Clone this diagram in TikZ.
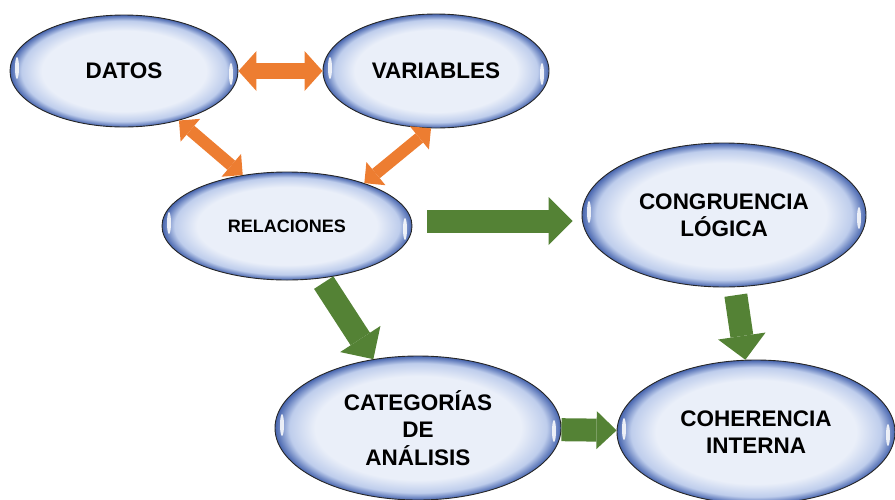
\documentclass[tikz,border=0pt]{standalone}
\usepackage{fontspec}
\setmainfont{Liberation Sans}
\usetikzlibrary{shapes.geometric, arrows.meta, calc}

\definecolor{naranja}{RGB}{237,125,49}
\definecolor{verde}{RGB}{84,130,53}
\definecolor{globoin}{RGB}{234,239,249}
\definecolor{globomid}{RGB}{190,205,236}
\definecolor{globoout}{RGB}{70,100,174}
\pgfdeclareradialshading{globosombra}{\pgfpointorigin}{color(0bp)=(globoin); color(18bp)=(globoin); color(22.5bp)=(globomid); color(25bp)=(globoout); color(50bp)=(globoout)}

\tikzset{
  globo/.style={ellipse, draw=black!85, line width=0.9pt, shading=globosombra, inner sep=2pt,
    align=center, font=\bfseries\fontsize{22.5}{27.5}\selectfont,
    path picture={
      \fill[white, opacity=.85] ($(path picture bounding box.west)+(7pt,3pt)$) ellipse [x radius=2pt, y radius=11pt];
      \fill[white, opacity=.85] ($(path picture bounding box.east)+(-7pt,-3pt)$) ellipse [x radius=2pt, y radius=11pt];
    }},
  flecha/.style={draw=verde, line width=23pt, -{Triangle[width=48pt, length=24pt, line width=0pt]}},
  dobleflecha/.style={draw=naranja, line width=12pt,
    {Triangle[width=30pt, length=15pt, line width=0pt]}-{Triangle[width=30pt, length=15pt, line width=0pt]}},
}

\begin{document}
\begin{tikzpicture}[x=1pt, y=-1pt]
\useasboundingbox (0,0) rectangle (895,499);
% globos
\node[globo, minimum width=228pt, minimum height=112pt] (datos) at (124,71) {DATOS};
\node[globo, minimum width=226pt, minimum height=114pt] (variables) at (436,71) {VARIABLES};
\node[globo, minimum width=250pt, minimum height=108pt, font=\bfseries\fontsize{18}{22}\selectfont] (relaciones) at (287,226) {RELACIONES};
\node[globo, minimum width=284pt, minimum height=144pt] (congruencia) at (724,215) {CONGRUENCIA\\LÓGICA};
\node[globo, minimum width=286pt, minimum height=144pt] (categorias) at (418,428) {CATEGORÍAS\\DE\\ANÁLISIS};
\node[globo, minimum width=278pt, minimum height=144pt] (coherencia) at (756,432) {COHERENCIA\\INTERNA};
% flechas naranjas
\draw[dobleflecha, line width=16pt, {Triangle[width=40pt, length=18pt, line width=0pt]}-{Triangle[width=40pt, length=18pt, line width=0pt]}] (datos.east) -- (variables.west);
\draw[dobleflecha] (datos.-42) -- (relaciones.131);
\draw[dobleflecha] (variables.-95) -- (relaciones.29);
% flechas verdes
\draw[flecha, shorten <=15pt, shorten >=9pt] ([yshift=5pt]relaciones.east) -- ([yshift=5pt]relaciones.east -| congruencia.west);
\draw[flecha, shorten <=5pt] (relaciones) -- (categorias);
\draw[flecha, shorten <=8pt] (congruencia) -- (coherencia);
\draw[flecha, -{Triangle[width=38pt, length=20pt, line width=0pt]}] (categorias) -- (coherencia);
\end{tikzpicture}
\end{document}
